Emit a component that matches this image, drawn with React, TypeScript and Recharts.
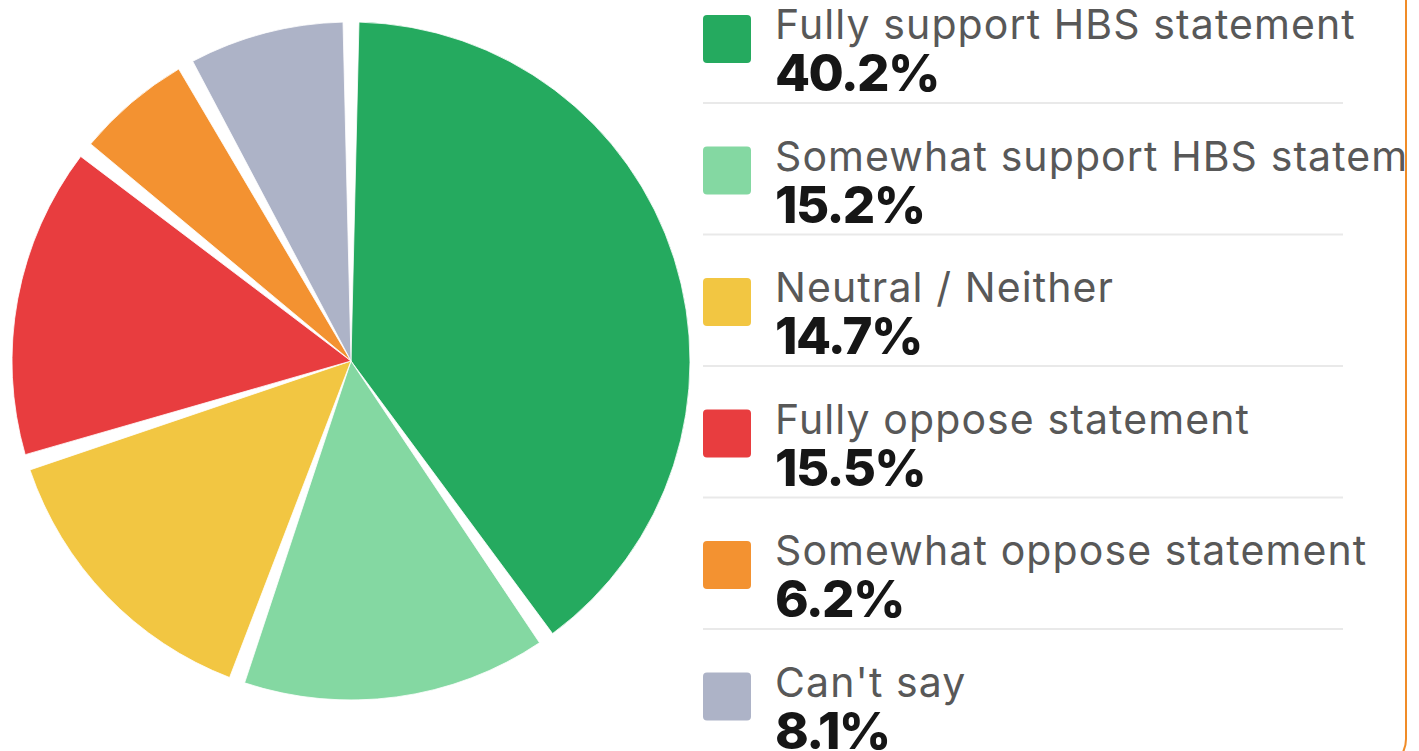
import React from "react";
import { PieChart, Pie, Cell, Sector, Legend } from "recharts";

const categories = [
  "Fully support HBS statement",
  "Somewhat support HBS statement",
  "Neutral / Neither",
  "Fully oppose statement",
  "Somewhat oppose statement",
  "Can't say",
];
const shares = [40.2, 15.2, 14.7, 15.5, 6.2, 8.1];
const colors = ["#25AA5F", "#84D8A2", "#F2C642", "#E83D3F", "#F39231", "#ADB3C7"];

const data = categories.map((name, i) => ({ name, value: shares[i] }));

const GAP = 2.7; // degrees of white gap between slices

const GapSector = (props: any) => {
  const dir = props.startAngle > props.endAngle ? 1 : -1;
  return (
    <Sector
      cx={props.cx}
      cy={props.cy}
      innerRadius={props.innerRadius}
      outerRadius={props.outerRadius}
      startAngle={props.startAngle - (dir * GAP) / 2}
      endAngle={props.endAngle + (dir * GAP) / 2}
      fill={props.fill}
      stroke="#ffffff"
      strokeWidth={0.8}
    />
  );
};

const ROW = 131.5;
const FONT = "Inter, 'Noto Sans', sans-serif";

const LegendContent = () => (
  <svg width={703} height={751} style={{ display: "block" }}>
    {categories.map((name, i) => {
      const y0 = i * ROW;
      return (
        <g key={name}>
          <rect x={0} y={y0 + 15} width={48} height={48} rx={4} ry={4} fill={colors[i]} />
          <text x={72} y={y0 + 39} fontFamily={FONT} fontSize={41} fontWeight={400} letterSpacing={1.1} fill="#585858">
            {name}
          </text>
          <text x={72} y={y0 + 91} fontFamily={FONT} fontSize={51} fontWeight={800} letterSpacing={-1.6} fill="#161616">
            {shares[i].toFixed(1) + "%"}
          </text>
          {i < categories.length - 1 && (
            <line x1={0} x2={640} y1={y0 + 103} y2={y0 + 103} stroke="#e9e9e9" strokeWidth={2} />
          )}
        </g>
      );
    })}
  </svg>
);

export default function App() {
  return (
    <div
      style={{
        position: "fixed",
        left: 0,
        top: 0,
        width: 1419,
        height: 751,
        overflow: "hidden",
        background: "#ffffff",
      }}
    >
      <PieChart width={1419} height={751} margin={{ top: 0, right: 0, bottom: 0, left: 0 }}>
        <Pie
          data={data}
          dataKey="value"
          nameKey="name"
          cx={351}
          cy={361}
          outerRadius={339}
          startAngle={90}
          endAngle={-270}
          paddingAngle={0}
          stroke="none"
          isAnimationActive={false}
          shape={GapSector}
        >
          {data.map((d, i) => (
            <Cell key={d.name} fill={colors[i]} />
          ))}
        </Pie>
        <Legend
          layout="vertical"
          align="right"
          verticalAlign="top"
          content={<LegendContent />}
          wrapperStyle={{ position: "absolute", left: 703, top: 0, width: 703, height: 751, overflow: "hidden" }}
        />
      </PieChart>
      <div
        style={{
          position: "absolute",
          left: -100,
          top: -100,
          width: 1507,
          height: 869,
          boxSizing: "border-box",
          border: "2px solid #F08C28",
          borderRadius: 30,
          pointerEvents: "none",
        }}
      />
    </div>
  );
}
